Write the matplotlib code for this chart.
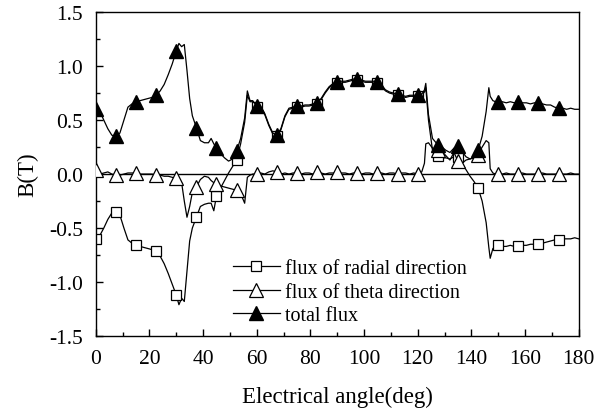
import numpy as np
import matplotlib
matplotlib.use("Agg")
import matplotlib.pyplot as plt
from matplotlib.ticker import MultipleLocator

plt.rcParams['font.family'] = ['Liberation Serif', 'DejaVu Serif']

# Electrical angle (deg)
angle = ([0, 1.5, 3, 4.5, 6, 7.5, 9, 10.5, 12, 13.5, 15, 16.5, 18, 19.5, 21, 22.5, 24, 25.5, 27, 28.5, 30]
         + [31, 32, 33, 34, 35, 36]
         + [37.5, 39, 40.5, 42, 43, 44, 45, 46.5, 48, 49.5, 51, 52.5, 54, 55.5, 56.5, 57.5, 58.5]
         + [60, 61.5, 63, 64.5, 66, 67.5, 69, 70.5, 72, 73.5,
            75, 76.5, 78, 79.5, 81, 82.5, 84, 85.5, 87, 88.5,
            90, 91.5, 93, 94.5, 96, 97.5, 99, 100.5, 102, 103.5,
            105, 106.5, 108, 109.5, 111, 112.5, 114, 115.5, 117, 118.5,
            120, 121.5]
         + [122.5, 123, 124, 125.5, 127.5, 129, 130.5, 132, 133.5, 135, 136.5, 138, 139.5, 141, 142.5,
            144, 145.5, 146.5, 147, 148, 149]
         + [150, 151.5, 153, 154.5, 156, 157.5, 159, 160.5, 162, 163.5, 165, 166.5, 168, 169.5, 171,
            172.5, 174, 175.5, 177, 178.5, 180])

flux_radial = ([-0.60, -0.57, -0.50, -0.42, -0.36, -0.35, -0.38, -0.50, -0.61, -0.64, -0.66, -0.67, -0.68,
                -0.69, -0.70, -0.71, -0.76, -0.83, -0.92, -1.02, -1.12]
               + [-1.21, -1.15, -1.18, -0.90, -0.62, -0.50]
               + [-0.40, -0.30, -0.28, -0.27, -0.27, -0.34, -0.20, -0.13, -0.06, 0.01, 0.07, 0.13, 0.28,
                  0.48, 0.73, 0.67, 0.67]
               + [0.62, 0.61, 0.55, 0.45, 0.37, 0.35, 0.41, 0.53, 0.60, 0.61,
                  0.62, 0.62, 0.63, 0.63, 0.64, 0.65, 0.69, 0.75, 0.80, 0.83,
                  0.84, 0.85, 0.85, 0.86, 0.87, 0.87, 0.86, 0.85, 0.85, 0.85,
                  0.84, 0.81, 0.77, 0.75, 0.74, 0.73, 0.72, 0.71, 0.72, 0.72,
                  0.72, 0.73]
               + [0.76, 0.80, 0.50, 0.22, 0.17, 0.15, 0.15, 0.14, 0.16, 0.16, 0.10, 0.04, -0.02, -0.07,
                  -0.13, -0.25, -0.45, -0.68, -0.78, -0.69, -0.67]
               + [-0.66, -0.67, -0.67, -0.66, -0.67, -0.67, -0.66, -0.66, -0.65, -0.65, -0.65, -0.64,
                  -0.63, -0.62, -0.61, -0.61, -0.60, -0.60, -0.60, -0.59, -0.60])

flux_theta = ([0.04, 0.00, 0.01, 0.02, 0.00, -0.01, -0.01, 0.00, 0.01, 0.01, 0.01, 0.00, 0.00, 0.00,
               0.00, -0.01, -0.01, -0.02, -0.02, -0.03, -0.04]
              + [-0.05, -0.08, -0.25, -0.40, -0.30, -0.17]
              + [-0.12, -0.05, -0.02, -0.03, -0.06, -0.08, -0.09, -0.11, -0.12, -0.13, -0.14, -0.15,
                 -0.18, -0.27, -0.03, -0.01, 0.00]
              + [0.00, 0.01, 0.00, 0.02, 0.03, 0.02, 0.00, 0.01, 0.00, 0.01,
                 0.01, 0.00, 0.01, 0.01, 0.00, 0.02, 0.01, 0.00, 0.01, 0.01,
                 0.02, 0.01, 0.01, 0.00, 0.01, 0.01, 0.00, 0.01, 0.01, 0.00,
                 0.01, 0.01, 0.00, 0.01, 0.01, 0.00, 0.01, 0.01, 0.00, 0.01,
                 0.00, 0.02]
              + [0.10, 0.28, 0.29, 0.24, 0.22, 0.21, 0.17, 0.13, 0.20, 0.12, 0.10, 0.13, 0.14, 0.15,
                 0.18, 0.25, 0.31, 0.29, 0.05, 0.01, 0.00]
              + [0.00, 0.00, 0.01, 0.00, 0.00, 0.00, 0.01, 0.00, 0.00, 0.00, 0.00, 0.01, 0.00, 0.00,
                 0.00, 0.00, 0.00, 0.00, 0.01, 0.00, 0.00])

flux_total = ([0.60, 0.58, 0.50, 0.42, 0.36, 0.35, 0.38, 0.50, 0.62, 0.65, 0.67, 0.68, 0.69, 0.70,
               0.71, 0.73, 0.77, 0.83, 0.92, 1.02, 1.14]
              + [1.21, 1.18, 1.20, 0.96, 0.70, 0.54]
              + [0.43, 0.31, 0.29, 0.29, 0.33, 0.28, 0.24, 0.19, 0.15, 0.12, 0.14, 0.21, 0.33, 0.52,
                 0.77, 0.68, 0.68]
              + [0.63, 0.62, 0.56, 0.46, 0.38, 0.36, 0.42, 0.54, 0.61, 0.62,
                 0.63, 0.63, 0.64, 0.64, 0.65, 0.66, 0.70, 0.76, 0.81, 0.84,
                 0.85, 0.86, 0.86, 0.87, 0.88, 0.88, 0.87, 0.86, 0.86, 0.86,
                 0.85, 0.82, 0.78, 0.76, 0.75, 0.74, 0.73, 0.72, 0.73, 0.73,
                 0.73, 0.74]
              + [0.78, 0.84, 0.55, 0.33, 0.27, 0.25, 0.22, 0.20, 0.24, 0.26, 0.21, 0.16, 0.14, 0.16,
                 0.22, 0.35, 0.58, 0.80, 0.72, 0.68, 0.67]
              + [0.67, 0.67, 0.66, 0.67, 0.66, 0.67, 0.66, 0.66, 0.65, 0.66, 0.66, 0.65, 0.64, 0.64,
                 0.62, 0.61, 0.61, 0.60, 0.61, 0.60, 0.60])

series_labels = ["flux of radial direction", "flux of theta direction", "total flux"]

x = np.array(angle)
marks = [i for i, a in enumerate(x) if np.isclose(a % 7.5, 0) and a < 180]

fig = plt.figure(figsize=(6.06, 4.10), dpi=100)
ax = fig.add_axes([0.158, 0.178, 0.797, 0.790])

ax.axhline(0, color='black', lw=1.0, zorder=1)
ax.plot(x, flux_radial, color='black', lw=0.9, marker='s', markersize=7.5,
        markerfacecolor='white', markeredgecolor='black', markeredgewidth=0.9,
        markevery=marks, label=series_labels[0], zorder=2)
ax.plot(x, flux_theta, color='black', lw=0.9, marker='^', markersize=10,
        markerfacecolor='white', markeredgecolor='black', markeredgewidth=0.9,
        markevery=marks, label=series_labels[1], zorder=3)
ax.plot(x, flux_total, color='black', lw=0.9, marker='^', markersize=10,
        markerfacecolor='black', markeredgecolor='black',
        markevery=marks, label=series_labels[2], zorder=4)

ax.set_xlim(0, 180)
ax.set_ylim(-1.5, 1.5)
ax.xaxis.set_major_locator(MultipleLocator(20))
ax.xaxis.set_minor_locator(MultipleLocator(10))
ax.yaxis.set_major_locator(MultipleLocator(0.5))
ax.yaxis.set_minor_locator(MultipleLocator(0.25))
ax.set_yticks([-1.5, -1.0, -0.5, 0.0, 0.5, 1.0, 1.5])
ax.set_yticklabels(["-1.5", "-1.0", "-0.5", "0.0", "0.5", "1.0", "1.5"])
ax.tick_params(which='both', direction='in', top=False, right=False, labelsize=15.5)
ax.tick_params(axis='x', which='major', length=5, width=1, pad=9)
ax.tick_params(axis='y', which='major', length=5, width=1, pad=9)
ax.tick_params(which='minor', length=3, width=1)
for s in ax.spines.values():
    s.set_linewidth(1.0)

ax.set_xlabel("Electrical angle(deg)", fontsize=16.5, labelpad=13)
ax.set_ylabel("B(T)", fontsize=16.5, labelpad=8)

ax.legend(loc='lower left', bbox_to_anchor=(0.267, 0.008), frameon=False, fontsize=14.5,
          handlelength=2.35, handletextpad=0.25, labelspacing=0.22, borderaxespad=0)

fig.savefig("out.png", dpi=100)
